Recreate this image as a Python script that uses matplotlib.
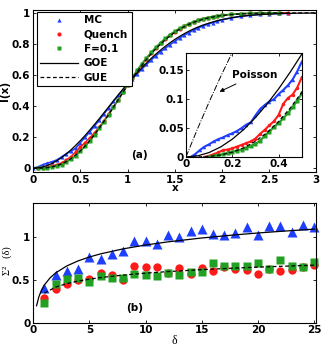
import matplotlib
matplotlib.use("Agg")
import matplotlib.pyplot as plt
from matplotlib.lines import Line2D

# ---------------- panel (a) data ----------------
x_mc = [0.0, 0.05, 0.1, 0.15, 0.2, 0.25, 0.3, 0.35, 0.4, 0.45, 0.5, 0.55, 0.6, 0.65, 0.7,
        0.75, 0.8, 0.85, 0.9, 0.95, 1.0, 1.05, 1.1, 1.15, 1.2, 1.25, 1.3, 1.35, 1.4, 1.45,
        1.5, 1.55, 1.6, 1.65, 1.7, 1.75, 1.8, 1.85, 1.9, 1.95, 2.0, 2.1, 2.2, 2.3, 2.4,
        2.5, 2.6, 2.7]
y_mc = [0.0, 0.008, 0.022, 0.033, 0.041, 0.053, 0.072, 0.093, 0.109, 0.129, 0.165, 0.200,
        0.235, 0.272, 0.310, 0.350, 0.390, 0.430, 0.468, 0.505, 0.540, 0.575, 0.607, 0.638,
        0.668, 0.697, 0.724, 0.750, 0.773, 0.796, 0.817, 0.838, 0.856, 0.873, 0.889, 0.903,
        0.916, 0.927, 0.937, 0.946, 0.955, 0.968, 0.978, 0.985, 0.990, 0.994, 0.996, 0.998]

x_q = [0.05, 0.1, 0.15, 0.2, 0.25, 0.3, 0.35, 0.4, 0.45, 0.5, 0.55, 0.6, 0.65, 0.7, 0.75,
       0.8, 0.85, 0.9, 0.95, 1.0, 1.05, 1.1, 1.15, 1.2, 1.25, 1.3, 1.35, 1.4, 1.45, 1.5,
       1.55, 1.6, 1.65, 1.7, 1.75, 1.8, 1.85, 1.9, 1.95, 2.0, 2.1, 2.2, 2.3, 2.4, 2.5, 2.6, 2.7]
y_q = [0.0, 0.002, 0.008, 0.015, 0.022, 0.032, 0.052, 0.073, 0.104, 0.136, 0.165, 0.195,
       0.228, 0.265, 0.305, 0.350, 0.395, 0.440, 0.488, 0.535, 0.580, 0.625, 0.667, 0.706,
       0.742, 0.776, 0.806, 0.834, 0.859, 0.880, 0.899, 0.915, 0.930, 0.942, 0.953, 0.962,
       0.969, 0.975, 0.980, 0.984, 0.990, 0.994, 0.997, 0.998, 0.999, 1.0, 1.0]

x_f = [0.05, 0.1, 0.15, 0.2, 0.25, 0.3, 0.35, 0.4, 0.45, 0.5, 0.55, 0.6, 0.65, 0.7, 0.75,
       0.8, 0.85, 0.9, 0.95, 1.0, 1.05, 1.1, 1.15, 1.2, 1.25, 1.3, 1.35, 1.4, 1.45, 1.5,
       1.55, 1.6, 1.65, 1.7, 1.75, 1.8, 1.85, 1.9, 1.95, 2.0, 2.1, 2.2, 2.3, 2.4, 2.5, 2.6]
y_f = [0.0, 0.0, 0.004, 0.009, 0.014, 0.023, 0.040, 0.059, 0.080, 0.110, 0.140, 0.175,
       0.215, 0.257, 0.300, 0.345, 0.392, 0.440, 0.490, 0.538, 0.585, 0.630, 0.672, 0.710,
       0.746, 0.779, 0.809, 0.836, 0.860, 0.881, 0.900, 0.916, 0.931, 0.943, 0.954, 0.963,
       0.970, 0.976, 0.981, 0.985, 0.991, 0.995, 0.997, 0.998, 0.999, 1.0]

# theory curves
x_th = [0.0, 0.05, 0.1, 0.15, 0.2, 0.25, 0.3, 0.35, 0.4, 0.45, 0.5, 0.55, 0.6, 0.65, 0.7,
        0.75, 0.8, 0.85, 0.9, 0.95, 1.0, 1.05, 1.1, 1.15, 1.2, 1.25, 1.3, 1.35, 1.4, 1.45,
        1.5, 1.55, 1.6, 1.65, 1.7, 1.75, 1.8, 1.85, 1.9, 1.95, 2.0, 2.1, 2.2, 2.3, 2.4,
        2.5, 2.6, 2.8, 3.0]
y_goe = [0.0, 0.002, 0.0078, 0.0175, 0.0309, 0.0479, 0.0683, 0.0917, 0.118, 0.147, 0.178,
         0.211, 0.246, 0.282, 0.319, 0.357, 0.395, 0.433, 0.471, 0.508, 0.544, 0.579, 0.613,
         0.646, 0.677, 0.707, 0.735, 0.761, 0.785, 0.808, 0.829, 0.848, 0.866, 0.882, 0.897,
         0.910, 0.922, 0.932, 0.941, 0.950, 0.957, 0.968, 0.978, 0.984, 0.989, 0.992, 0.995,
         0.998, 0.999]
y_gue = [0.0, 0.0001, 0.0011, 0.0036, 0.0084, 0.0161, 0.0273, 0.0422, 0.0613, 0.0846, 0.112,
         0.143, 0.178, 0.217, 0.258, 0.302, 0.347, 0.393, 0.440, 0.487, 0.533, 0.578, 0.621,
         0.661, 0.700, 0.736, 0.769, 0.799, 0.827, 0.852, 0.8745, 0.894, 0.911, 0.926, 0.939,
         0.950, 0.959, 0.967, 0.973, 0.979, 0.983, 0.989, 0.9936, 0.996, 0.998, 0.999, 0.9995,
         1.0, 1.0]
x_pois = [0.0, 0.05, 0.1, 0.15, 0.2]
y_pois = [0.0, 0.0488, 0.0952, 0.1393, 0.1813]

# inset data
xi_mc = [0.02, 0.04, 0.06, 0.08, 0.1, 0.12, 0.14, 0.16, 0.18, 0.2, 0.22, 0.24, 0.26, 0.28,
         0.3, 0.32, 0.34, 0.36, 0.38, 0.4, 0.42, 0.44, 0.46, 0.48, 0.5]
yi_mc = [0.0, 0.005, 0.012, 0.018, 0.022, 0.027, 0.031, 0.034, 0.038, 0.041, 0.045, 0.050,
         0.056, 0.060, 0.072, 0.083, 0.090, 0.096, 0.100, 0.109, 0.116, 0.124, 0.134, 0.148,
         0.165]
xi_q = [0.08, 0.1, 0.12, 0.14, 0.16, 0.18, 0.2, 0.22, 0.24, 0.26, 0.28, 0.3, 0.32, 0.34,
        0.36, 0.38, 0.4, 0.42, 0.44, 0.46, 0.48, 0.5]
yi_q = [0.0, 0.002, 0.005, 0.008, 0.012, 0.013, 0.015, 0.018, 0.021, 0.024, 0.027, 0.032,
        0.040, 0.047, 0.055, 0.062, 0.073, 0.092, 0.102, 0.108, 0.120, 0.138]
xi_f = [0.1, 0.12, 0.14, 0.16, 0.18, 0.2, 0.22, 0.24, 0.26, 0.28, 0.3, 0.32, 0.34, 0.36,
        0.38, 0.4, 0.42, 0.44, 0.46, 0.48, 0.5]
yi_f = [0.0, 0.002, 0.003, 0.005, 0.007, 0.009, 0.011, 0.013, 0.016, 0.019, 0.023, 0.028,
        0.037, 0.044, 0.052, 0.059, 0.067, 0.076, 0.086, 0.097, 0.110]

# ---------------- panel (b) data ----------------
delta = list(range(1, 26))
s2_mc = [0.407, 0.554, 0.600, 0.628, 0.764, 0.748, 0.806, 0.841, 0.961, 0.953, 0.922, 1.031,
         1.000, 1.077, 1.093, 1.039, 1.027, 1.050, 1.116, 1.031, 1.132, 1.132, 1.058, 1.140,
         1.124]
s2_q = [0.283, 0.395, 0.450, 0.504, 0.512, 0.581, 0.562, 0.500, 0.663, 0.647, 0.647, 0.585,
        0.643, 0.566, 0.643, 0.605, 0.651, 0.624, 0.616, 0.574, 0.632, 0.609, 0.612, 0.651,
        0.678]
s2_f = [0.236, 0.450, 0.508, 0.527, 0.473, 0.547, 0.523, 0.527, 0.566, 0.554, 0.547, 0.581,
        0.562, 0.589, 0.589, 0.694, 0.663, 0.663, 0.659, 0.702, 0.628, 0.729, 0.667, 0.655,
        0.705]
d_goe = [0.3, 0.5, 0.75, 1, 1.5, 2, 3, 4, 5, 6, 8, 10, 12, 15, 18, 20, 22, 25]
s2_goe = [0.198, 0.3015, 0.3837, 0.442, 0.524, 0.5825, 0.6646, 0.7229, 0.768, 0.805, 0.8633,
          0.9085, 0.9454, 0.9906, 1.0276, 1.0489, 1.0682, 1.0941]
d_gue = [1, 2, 3, 4, 5, 6, 8, 10, 12, 15, 18, 20, 22, 25]
s2_gue = [0.346, 0.4162, 0.4573, 0.4865, 0.5091, 0.5276, 0.5567, 0.5793, 0.5978, 0.6204,
          0.6389, 0.6496, 0.6592, 0.6722]

BLUE = '#1f3fff'
RED = '#ff1a1a'
GREEN = '#22a022'

plt.rcParams['font.family'] = ['DejaVu Sans']
plt.rcParams['font.weight'] = 'bold'
plt.rcParams['font.size'] = 7.5

fig = plt.figure(figsize=(3.32, 3.49), dpi=100)

# ---- top main axes ----
ax = fig.add_axes([0.100, 0.507, 0.853, 0.465])
ax.plot(x_mc, y_mc, '^', color=BLUE, ms=3, mec='none', ls='-', lw=1.2, zorder=2)
ax.plot(x_q, y_q, 'o', color=RED, ms=3, mec='none', ls='-', lw=1.2, zorder=2)
ax.plot(x_f, y_f, 's', color=GREEN, ms=3, mec='none', ls='-', lw=1.2, zorder=2)
ax.plot(x_th, y_goe, '-', color='black', lw=0.9, zorder=3)
ax.plot(x_th, y_gue, '--', color='black', lw=0.9, dashes=(3, 2), zorder=3)
ax.set_xlim(0, 3)
ax.set_ylim(-0.025, 1.02)
ax.set_xticks([0, 0.5, 1, 1.5, 2, 2.5, 3])
ax.set_xticklabels(['0', '0.5', '1', '1.5', '2', '2.5', '3'])
ax.set_yticks([0, 0.2, 0.4, 0.6, 0.8, 1])
ax.set_yticklabels(['0', '0.2', '0.4', '0.6', '0.8', '1'])
ax.tick_params(direction='in', top=True, right=True, length=2.5, width=0.6, pad=2)
ax.set_xlabel('x', fontweight='bold', labelpad=-1)
ax.set_ylabel('I(x)', fontweight='bold', labelpad=1)
ax.text(1.13, 0.085, '(a)', fontweight='bold', ha='center', va='center')

handles = [Line2D([], [], ls='none', marker='^', color=BLUE, ms=3, mec='none'),
           Line2D([], [], ls='none', marker='o', color=RED, ms=3, mec='none'),
           Line2D([], [], ls='none', marker='s', color=GREEN, ms=3, mec='none'),
           Line2D([], [], ls='-', color='black', lw=0.9),
           Line2D([], [], ls='--', color='black', lw=0.9, dashes=(3, 2))]
leg = ax.legend(handles, ['MC', 'Quench', 'F=0.1', 'GOE', 'GUE'], loc='upper left',
                bbox_to_anchor=(0.008, 0.995), frameon=True, fancybox=False,
                edgecolor='black', framealpha=1, handlelength=3.6, handletextpad=0.6,
                labelspacing=0.42, borderpad=0.35, borderaxespad=0.1,
                prop={'weight': 'bold', 'size': 7.5})
leg.get_frame().set_linewidth(0.8)

# ---- inset ----
ai = fig.add_axes([0.560, 0.550, 0.349, 0.298])
ai.plot(xi_mc, yi_mc, '^', color=BLUE, ms=2.5, mec='none', ls='-', lw=1.5, zorder=2)
ai.plot(xi_q, yi_q, 'o', color=RED, ms=2.5, mec='none', ls='-', lw=1.5, zorder=2)
ai.plot(xi_f, yi_f, 's', color=GREEN, ms=2.5, mec='none', ls='-', lw=1.5, zorder=2)
ai.plot(x_th, y_goe, '-', color='black', lw=0.9, zorder=3)
ai.plot(x_th, y_gue, '--', color='black', lw=0.9, dashes=(3, 2), zorder=3)
ai.plot(x_pois, y_pois, '-.', color='black', lw=0.7, zorder=3)
ai.set_xlim(0, 0.5)
ai.set_ylim(0, 0.18)
ai.set_xticks([0, 0.2, 0.4])
ai.set_xticklabels(['0', '0.2', '0.4'])
ai.set_yticks([0, 0.05, 0.1, 0.15])
ai.set_yticklabels(['0', '0.05', '0.1', '0.15'])
ai.tick_params(direction='in', top=True, right=True, length=2, width=0.6, pad=1.5)
ai.annotate('Poisson', xy=(0.145, 0.113), xytext=(0.2, 0.142), ha='left', va='center',
            fontweight='bold',
            arrowprops=dict(arrowstyle='-|>', color='black', lw=0.7, mutation_scale=6,
                            shrinkA=2, shrinkB=0))

# ---- bottom axes ----
bx = fig.add_axes([0.100, 0.0754, 0.853, 0.343])
bx.plot(d_goe, s2_goe, '-', color='black', lw=0.9, zorder=3)
bx.plot(d_gue, s2_gue, '--', color='black', lw=0.9, dashes=(3, 2), zorder=3)
bx.plot(delta, s2_mc, '^', color=BLUE, ms=6.5, mec='none', ls='none', zorder=2, clip_on=False)
bx.plot(delta, s2_q, 'o', color=RED, ms=6, mec='none', ls='none', zorder=2, clip_on=False)
bx.plot(delta, s2_f, 's', color=GREEN, ms=5.2, mec='none', ls='none', zorder=2, clip_on=False)
bx.set_xlim(0, 25.2)
bx.set_ylim(0, 1.4)
bx.set_xticks([0, 5, 10, 15, 20, 25])
bx.set_yticks([0, 0.5, 1])
bx.set_yticklabels(['0', '0.5', '1'])
bx.tick_params(direction='in', top=True, right=True, length=2.5, width=0.6, pad=2)
bx.set_xlabel('δ', fontsize=8.5, fontweight='normal', family='Liberation Serif', labelpad=0)
bx.set_ylabel('Σ²   (δ)', fontsize=7.5, fontweight='normal', family='Liberation Serif')
bx.yaxis.set_label_coords(-0.075, 0.52)
bx.text(9.0, 0.167, '(b)', fontweight='bold', ha='center', va='center')

for a in (ax, ai, bx):
    for sp in a.spines.values():
        sp.set_linewidth(0.8)

fig.savefig('out.png', dpi=100)
